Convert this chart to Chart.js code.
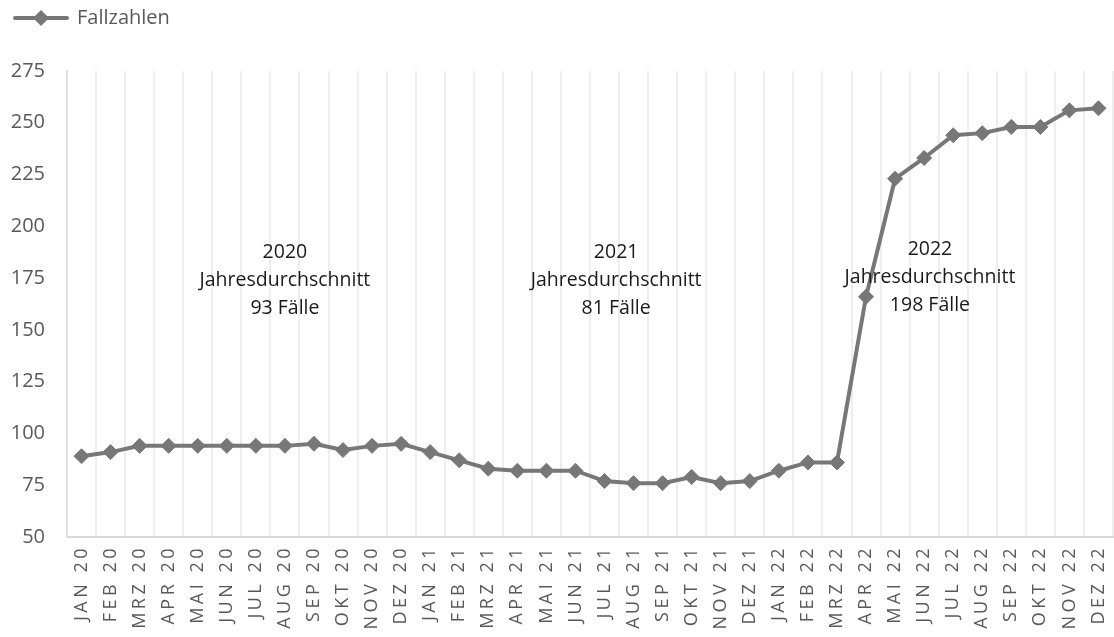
<!DOCTYPE html>
<html>
<head>
<meta charset="utf-8">
<script src="https://cdn.jsdelivr.net/npm/chart.js@4"></script>
<style>
  html, body { margin: 0; padding: 0; background: #fff; }
  #wrap { width: 1114px; height: 637px; }
</style>
</head>
<body>
<div id="wrap"><canvas id="chart"></canvas></div>
<script>
const months = [
    'JAN 20', 'FEB 20', 'MRZ 20', 'APR 20', 'MAI 20', 'JUN 20', 'JUL 20', 'AUG 20', 'SEP 20', 'OKT 20', 'NOV 20', 'DEZ 20',
    'JAN 21', 'FEB 21', 'MRZ 21', 'APR 21', 'MAI 21', 'JUN 21', 'JUL 21', 'AUG 21', 'SEP 21', 'OKT 21', 'NOV 21', 'DEZ 21',
    'JAN 22', 'FEB 22', 'MRZ 22', 'APR 22', 'MAI 22', 'JUN 22', 'JUL 22', 'AUG 22', 'SEP 22', 'OKT 22', 'NOV 22', 'DEZ 22'
];
const fallzahlen = [
    89, 91, 94, 94, 94, 94, 94, 94, 95, 92, 94, 95,
    91, 87, 83, 82, 82, 82, 77, 76, 76, 79, 76, 77,
    82, 86, 86, 166, 223, 233, 244, 245, 248, 248, 256, 257
];
const years = ['2020', '2021', '2022'];
const yearAverages = [93, 81, 198];

// where the yearly notes sit: category index and value of the first line
const notePos = [
    { x: 7.0, y: 187.5 },
    { x: 18.4, y: 187.5 },
    { x: 29.2, y: 189 }
];

const LINE = '#777777';
const TEXT = '#595959';

// legend marker: line with a diamond
const legendMark = document.createElement('canvas');
legendMark.width = 58;
legendMark.height = 18;
(() => {
    const c = legendMark.getContext('2d');
    c.strokeStyle = LINE;
    c.lineWidth = 4;
    c.lineCap = 'round';
    c.beginPath();
    c.moveTo(3, 9);
    c.lineTo(55, 9);
    c.stroke();
    c.fillStyle = LINE;
    c.beginPath();
    c.moveTo(29, 1);
    c.lineTo(37, 9);
    c.lineTo(29, 17);
    c.lineTo(21, 9);
    c.closePath();
    c.fill();
})();

const layoutFix = {
    id: 'layoutFix',
    beforeLayout(chart) {
        const lg = chart.legend;
        if (lg && !lg._fixed) {
            const fit = lg.fit;
            lg.fit = function() {
                fit.call(this);
                this.height = 71;
            };
            lg._fixed = true;
        }
    },
    beforeDraw(chart) {
        const s = chart.scales.x;
        if (s && !s._spaced) {
            const orig = s.drawLabels;
            s.drawLabels = function(area) {
                this.ctx.save();
                this.ctx.letterSpacing = '3.5px';
                orig.call(this, area);
                this.ctx.restore();
            };
            s._spaced = true;
        }
    }
};

const yearNotes = {
    id: 'yearNotes',
    afterDatasetsDraw(chart) {
        const { ctx, scales: { x, y } } = chart;
        ctx.save();
        ctx.font = '19.5px "Open Sans"';
        ctx.fillStyle = '#1a1a1a';
        ctx.textAlign = 'center';
        ctx.textBaseline = 'middle';
        years.forEach((yr, i) => {
            const px = x.getPixelForValue(notePos[i].x);
            const py = y.getPixelForValue(notePos[i].y);
            ctx.fillText(yr, px, py);
            ctx.fillText('Jahresdurchschnitt', px, py + 28);
            ctx.fillText(`${yearAverages[i]} Fälle`, px, py + 56);
        });
        ctx.restore();
    }
};

new Chart(document.getElementById('chart'), {
    type: 'line',
    data: {
        labels: months,
        datasets: [{
            label: 'Fallzahlen',
            data: fallzahlen,
            borderColor: LINE,
            backgroundColor: LINE,
            borderWidth: 4,
            pointStyle: 'rectRot',
            pointRadius: 7.5,
            pointBorderWidth: 1,
            pointBackgroundColor: LINE,
            pointBorderColor: LINE,
            tension: 0
        }]
    },
    options: {
        responsive: true,
        maintainAspectRatio: false,
        animation: false,
        layout: { autoPadding: false, padding: { left: 7, right: 1, top: 0, bottom: 0 } },
        plugins: {
            legend: {
                position: 'top',
                align: 'start',
                labels: {
                    usePointStyle: true,
                    pointStyleWidth: 52,
                    padding: 8,
                    color: TEXT,
                    font: { family: '"Open Sans"', size: 20 },
                    generateLabels: (chart) => [{
                        text: 'Fallzahlen',
                        pointStyle: legendMark,
                        fontColor: TEXT,
                        lineWidth: 0,
                        datasetIndex: 0
                    }]
                }
            },
            tooltip: { enabled: false }
        },
        scales: {
            x: {
                offset: true,
                grid: {
                    offset: true,
                    color: '#eeeeee',
                    lineWidth: 2,
                    drawTicks: false
                },
                border: { color: '#d9d9d9', width: 2 },
                ticks: {
                    autoSkip: false,
                    minRotation: 90,
                    maxRotation: 90,
                    padding: 8,
                    color: TEXT,
                    font: { family: '"Open Sans"', size: 18 }
                },
                afterFit: (scale) => {
                    scale.height = 100;
                    scale.paddingLeft = 0;
                    scale.paddingRight = 0;
                }
            },
            y: {
                min: 50,
                max: 275,
                grid: { display: false, drawTicks: false },
                border: { display: true, color: '#dedede', width: 2 },
                ticks: {
                    stepSize: 25,
                    padding: 22,
                    color: TEXT,
                    font: { family: '"Open Sans"', size: 20 }
                },
                afterFit: (scale) => { scale.width = 60; }
            }
        }
    },
    plugins: [layoutFix, yearNotes]
});
</script>
</body>
</html>
